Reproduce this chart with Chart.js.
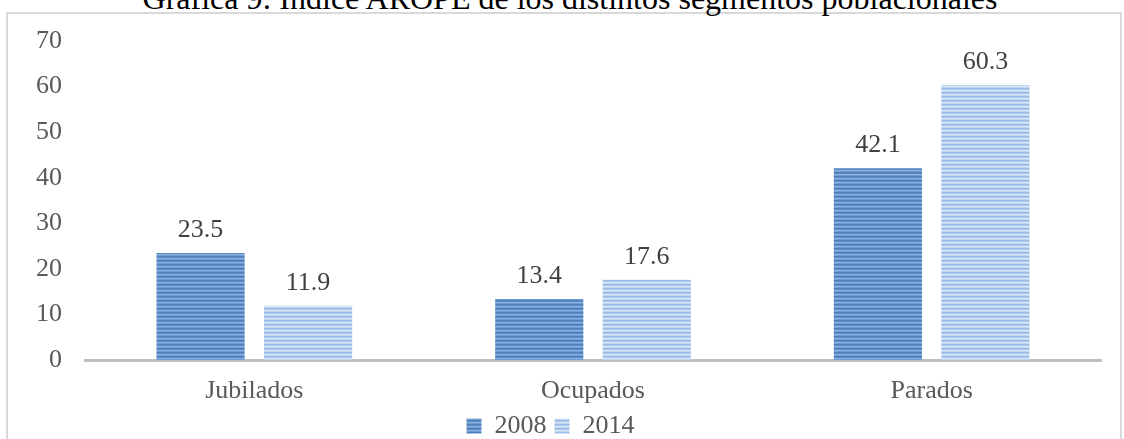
<!DOCTYPE html>
<html>
<head>
<meta charset="utf-8">
<script src="https://cdn.jsdelivr.net/npm/chart.js@4/dist/chart.umd.min.js"></script>
<style>
  html, body { margin: 0; padding: 0; background: #fff; overflow: hidden; }
  #wrap { position: relative; width: 1124px; height: 439px; overflow: hidden; }
  #frame { position: absolute; left: 6px; top: 12px; width: 1116px; height: 440px; border: 2px solid #d9d9d9; box-sizing: border-box; }
  #title { position: absolute; left: 0; top: -18px; width: 1124px; padding-left: 16px; box-sizing: border-box;
           text-align: center; font: 32px/32px "Liberation Serif", "Times New Roman", serif; color: #000; white-space: nowrap; }
  canvas { position: absolute; left: 0; top: 0; }
</style>
</head>
<body>
<div id="wrap">
  <div id="frame"></div>
  <div id="title">Grafica  9: Índice AROPE de los distintos segmentos poblacionales</div>
  <canvas id="c" width="1124" height="449"></canvas>
</div>
<script>
const categories = ["Jubilados", "Ocupados", "Parados"];
const seriesLabels = ["2008", "2014"];
const values2008 = [23.5, 13.4, 42.1];
const values2014 = [11.9, 17.6, 60.3];
const yTicks = [0, 10, 20, 30, 40, 50, 60, 70];

function stripePattern(rows) {
  const c = document.createElement('canvas');
  c.width = 4; c.height = rows.length;
  const g = c.getContext('2d');
  rows.forEach((col, i) => { g.fillStyle = col; g.fillRect(0, i, 4, 1); });
  return g.createPattern(c, 'repeat');
}
const ctx = document.getElementById('c').getContext('2d');
const pat2008 = stripePattern(['#4f80bc', '#5a8bc6', '#8fb2dd', '#6e9bd0']);
const pat2014 = stripePattern(['#9ebde6', '#a9c5ea', '#dbe7f6', '#c0d4ef']);

const SERIF = '"Liberation Serif", "Times New Roman", serif';

const valueLabels = {
  id: 'valueLabels',
  afterDatasetsDraw(chart) {
    const g = chart.ctx;
    g.save();
    g.font = '26px ' + SERIF;
    g.fillStyle = '#404040';
    g.textAlign = 'center';
    g.textBaseline = 'alphabetic';
    chart.data.datasets.forEach((ds, di) => {
      const meta = chart.getDatasetMeta(di);
      meta.data.forEach((bar, i) => {
        g.fillText(ds.data[i].toFixed(1), bar.x, bar.y - 16);
      });
    });
    g.restore();
  }
};

new Chart(ctx, {
  type: 'bar',
  data: {
    labels: categories,
    datasets: [
      { label: seriesLabels[0], data: values2008, backgroundColor: pat2008, borderWidth: 0 },
      { label: seriesLabels[1], data: values2014, backgroundColor: pat2014, borderWidth: 0 }
    ]
  },
  options: {
    responsive: false,
    animation: false,
    devicePixelRatio: 1,
    layout: { padding: { left: 0, right: 23, top: 41, bottom: 0 } },
    datasets: { bar: { barPercentage: 0.82, categoryPercentage: 0.635 } },
    plugins: {
      title: { display: false },
      tooltip: { enabled: false },
      legend: {
        position: 'bottom',
        labels: {
          font: { family: SERIF, size: 26, lineHeight: 1 },
          color: '#595959',
          boxWidth: 15, boxHeight: 15,
          padding: 8
        }
      }
    },
    scales: {
      x: {
        grid: { display: false, drawTicks: false },
        border: { display: true, color: '#bfbfbf', width: 3 },
        ticks: { font: { family: SERIF, size: 26 }, color: '#595959', padding: 16 },
        afterFit(s) { s.height = 45; }
      },
      y: {
        min: 0, max: 70,
        afterBuildTicks(s) { s.ticks = yTicks.map(v => ({ value: v })); },
        grid: { display: false, drawTicks: false },
        border: { display: false },
        ticks: { font: { family: SERIF, size: 26 }, color: '#595959', padding: 23 },
        afterFit(s) { s.width = 85; }
      }
    }
  },
  plugins: [valueLabels]
});
</script>
</body>
</html>
